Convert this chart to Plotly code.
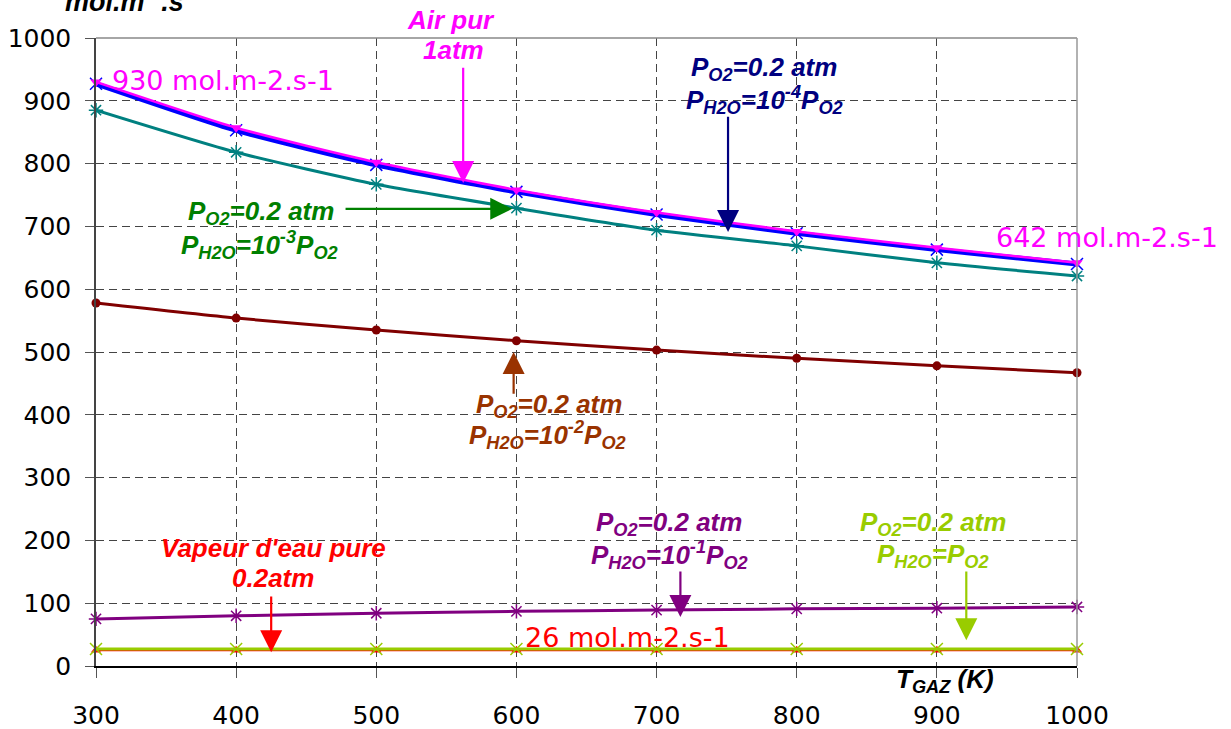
import plotly.graph_objects as go

T = [300, 400, 500, 600, 700, 800, 900, 1000]
air_pur = [930, 857, 802, 758, 722, 692, 666, 642]
h2o_1e4 = [927, 853, 798, 755, 719, 689, 663, 640]
h2o_1e3 = [885, 818, 767, 729, 694, 669, 642, 621]
h2o_1e2 = [578, 554, 535, 518, 503, 490, 478, 467]
h2o_1e1 = [75, 80, 84, 87, 89, 91, 92, 94]
h2o_eq = [27, 27, 27, 27, 27, 27, 27, 27]
vapeur = [25, 25, 25, 25, 25, 25, 25, 25]

x_ticks = [300, 400, 500, 600, 700, 800, 900, 1000]
y_ticks = [0, 100, 200, 300, 400, 500, 600, 700, 800, 900, 1000]

fig = go.Figure()

def add(y, color, width, symbol, msize, mline=None):
    marker = dict(symbol=symbol, size=msize, color=color)
    if mline is not None:
        marker["line"] = dict(color=color, width=mline)
    fig.add_trace(go.Scatter(x=T, y=y, mode="lines+markers",
                             line=dict(color=color, width=width, shape="spline", smoothing=0.6),
                             marker=marker, showlegend=False, cliponaxis=False))

add(vapeur, "#FF0000", 2, "triangle-up", 9)
add(h2o_eq, "#99CC00", 3, "x-thin-open", 12, mline=1.5)
add(h2o_1e1, "#800080", 3, "asterisk-open", 12, mline=1.5)
add(h2o_1e2, "#800000", 3, "circle", 9)
add(h2o_1e3, "#008080", 3, "asterisk-open", 12, mline=1.5)
add(h2o_1e4, "#0000FF", 5, "x-thin-open", 12, mline=1.5)
add(air_pur, "#FF00FF", 2.5, "triangle-down", 10)

ann = []
bf = "Liberation Sans, Arial, sans-serif"
vf = "DejaVu Sans, sans-serif"
PLOT_TOP, PLOT_H = 38, 628

def py(p):
    return 1 + (PLOT_TOP - p) / PLOT_H

def line(text, x, ypx, color, size=26):
    ann.append(dict(text="<b><i>" + text + "</i></b>", x=x, y=py(ypx), xref="x", yref="paper",
                    showarrow=False, font=dict(family=bf, size=size, color=color),
                    xanchor="center", yanchor="middle", align="center"))

def arrow(x, y, ax, ay, color):
    ann.append(dict(text="", x=x, y=y, ax=ax, ay=ay, xref="x", yref="y", axref="x", ayref="y",
                    showarrow=True, arrowhead=2, arrowsize=2.0, arrowwidth=2.2, arrowcolor=color))

def value(text, x, y, color):
    ann.append(dict(text=text, x=x, y=y, xref="x", yref="y", showarrow=False,
                    xanchor="left", yanchor="middle",
                    font=dict(family=vf, size=27, color=color)))

PO2 = "P<sub>O2</sub>=0.2 atm"
line("Air pur", 553, 20, "#FF00FF")
line("1atm", 555, 50, "#FF00FF")
arrow(562, 769, 562, 955, "#FF00FF")
line(PO2, 777, 68, "#000080")
line("P<sub>H2O</sub>=10<sup>-4</sup>P<sub>O2</sub>", 777, 100, "#000080")
arrow(751, 691, 751, 877, "#000080")
line(PO2, 418, 212, "#008000")
line("P<sub>H2O</sub>=10<sup>-3</sup>P<sub>O2</sub>", 417, 245, "#008000")
arrow(597, 728, 477, 728, "#008000")
line(PO2, 623, 405, "#993300")
line("P<sub>H2O</sub>=10<sup>-2</sup>P<sub>O2</sub>", 622, 435, "#993300")
arrow(598, 500, 598, 431, "#993300")
line(PO2, 709, 523, "#800080")
line("P<sub>H2O</sub>=10<sup>-1</sup>P<sub>O2</sub>", 709, 555, "#800080")
arrow(717, 78, 717, 153, "#800080")
line(PO2, 897, 523, "#99CC00")
line("P<sub>H2O</sub>=P<sub>O2</sub>", 897, 555, "#99CC00")
arrow(921, 41, 921, 153, "#99CC00")
line("Vapeur d'eau pure", 427, 548, "#FF0000")
line("0.2atm", 426, 578, "#FF0000")
arrow(425, 22, 425, 113, "#FF0000")

value("930 mol.m-2.s-1", 310, 933, "#FF00FF")
value("642 mol.m-2.s-1", 941, 683, "#FF00FF")
value("26 mol.m-2.s-1", 605, 46, "#FF0000")

ann.append(dict(text="<b><i>T<sub>GAZ</sub> (K)</i></b>", x=906, y=py(680), xref="x", yref="paper",
                showarrow=False, xanchor="center", yanchor="middle",
                font=dict(family=bf, size=26, color="black")))
ann.append(dict(text="<b><i>mol.m<sup>-2</sup>.s<sup>-1</sup></i></b>", x=(63 - 96) / 981, y=py(0),
                xref="paper", yref="paper", showarrow=False, xanchor="left", yanchor="middle",
                font=dict(family=bf, size=27, color="black")))

fig.update_layout(
    width=1231, height=729,
    margin=dict(l=96, r=154, t=38, b=63, autoexpand=False),
    paper_bgcolor="white", plot_bgcolor="white",
    annotations=ann,
    shapes=[
        dict(type="line", xref="paper", yref="paper", x0=0, x1=1, y0=1, y1=1,
             line=dict(color="#888888", width=1.5)),
        dict(type="line", xref="paper", yref="paper", x0=1, x1=1, y0=0, y1=1,
             line=dict(color="#999999", width=1.5)),
    ],
)
fig.update_xaxes(range=[300, 1000], tickvals=x_ticks, ticktext=[str(v) for v in x_ticks],
                 showgrid=True, gridcolor="#444444", gridwidth=1, griddash="8px,5px",
                 showline=True, linecolor="black", linewidth=1.5, automargin=False,
                 ticks="outside", ticklen=10, tickcolor="#555555", tickwidth=1,
                 ticklabelstandoff=16,
                 tickfont=dict(family=vf, size=25, color="black"), zeroline=False)
fig.update_yaxes(range=[0, 1000], tickvals=y_ticks, ticktext=[str(v) for v in y_ticks],
                 showgrid=True, gridcolor="#444444", gridwidth=1, griddash="8px,5px",
                 showline=True, linecolor="#444444", linewidth=1.5, automargin=False,
                 ticks="outside", ticklen=9, tickcolor="#555555", tickwidth=1,
                 ticklabelstandoff=9,
                 tickfont=dict(family=vf, size=25, color="black"), zeroline=False)

fig.write_html("out.html", config={"displayModeBar": False},
               post_script="document.body.style.margin='0';document.body.style.overflow='hidden';")
